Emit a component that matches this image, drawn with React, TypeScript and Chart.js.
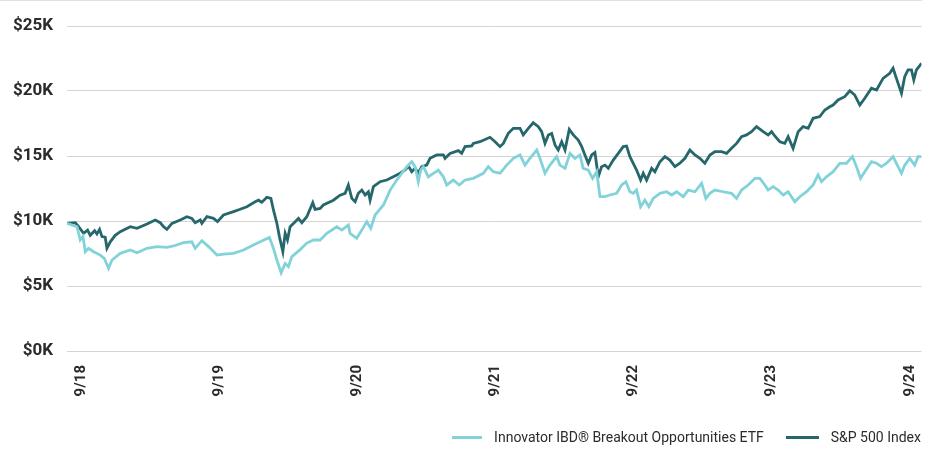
import React, { useEffect, useRef } from "react";
import { Chart, registerables } from "chart.js";

Chart.register(...registerables);

// x values are months after the 9/18 tick; values are $K
const tickMonths = [0, 12, 24, 36, 48, 60, 72];
const tickLabels = ["9/18", "9/19", "9/20", "9/21", "9/22", "9/23", "9/24"];
const yTicks = [0, 5, 10, 15, 20, 25];

const seriesNames = ["Innovator IBD\u00AE Breakout Opportunities ETF", "S&P 500 Index"];

const etfMonths = [
  -1.24, -0.37, -0.09, 0.15, 0.35, 0.63, 1.07, 1.65, 2.0, 2.37, 2.67, 3.39, 4.26, 4.84, 5.71, 6.57, 7.44, 8.02, 8.88,
  9.61, 9.9, 10.48, 11.06, 11.79, 12.36, 13.23, 14.1, 14.96, 15.55, 16.35, 16.7, 17.0, 17.37, 17.72, 18.0, 18.3,
  19.02, 19.6, 20.18, 20.76, 21.34, 22.21, 22.64, 23.21, 23.36, 23.94, 24.38, 24.81, 25.16, 25.53, 26.26, 26.84,
  27.42, 27.85, 28.29, 28.72, 29.01, 29.29, 29.5, 29.73, 30.16, 30.6, 31.03, 31.47, 31.76, 32.33, 32.86, 33.35,
  34.07, 34.94, 35.37, 35.81, 36.39, 36.97, 37.55, 38.13, 38.56, 38.99, 39.58, 39.86, 40.3, 40.73, 41.31, 41.6,
  42.04, 42.47, 42.9, 43.34, 43.62, 44.06, 44.44, 44.79, 45.08, 45.51, 45.94, 46.53, 46.96, 47.33, 47.68, 47.97,
  48.26, 48.61, 48.98, 49.33, 49.7, 50.29, 50.87, 51.3, 51.74, 52.31, 52.75, 53.33, 53.91, 54.28, 54.63, 55.06,
  55.78, 56.51, 56.95, 57.38, 57.96, 58.54, 58.97, 59.41, 59.69, 60.13, 60.56, 61.0, 61.43, 62.01, 62.44, 63.03,
  63.6, 64.03, 64.33, 64.76, 65.34, 65.92, 66.5, 67.02, 67.37, 67.72, 68.09, 68.67, 69.11, 69.54, 69.98, 70.55,
  70.84, 71.28, 71.56, 72.0, 72.43, 72.72, 73.02,
];
const etfValues = [
  9.82, 9.56, 8.54, 8.8, 7.64, 7.9, 7.64, 7.38, 7.13, 6.36, 7.0, 7.51, 7.77, 7.56, 7.9, 8.03, 7.97, 8.08, 8.33,
  8.4, 7.9, 8.49, 8.03, 7.38, 7.46, 7.51, 7.77, 8.15, 8.4, 8.74, 7.9, 7.0, 6.02, 6.74, 6.49, 7.26,
  7.8, 8.3, 8.54, 8.54, 9.05, 9.56, 9.3, 9.69, 9.05, 8.67, 9.3, 9.95, 9.44, 10.46, 11.23, 12.38,
  13.15, 13.67, 14.18, 14.56, 14.18, 13.02, 13.92, 14.18, 13.4, 13.67, 13.92, 13.4, 12.77, 13.15, 12.77, 13.15,
  13.28, 13.67, 14.18, 13.79, 13.67, 14.3, 14.82, 15.08, 14.3, 14.82, 15.46, 14.82, 13.67, 14.3, 14.95, 14.3,
  14.05, 15.2, 14.82, 15.08, 14.05, 13.92, 13.28, 13.79, 11.87, 11.87, 12.0, 12.13, 12.77, 13.02, 12.25, 12.13,
  12.38, 11.1, 11.6, 11.1, 11.74, 12.13, 12.25, 12.0, 12.25, 11.87, 12.38, 12.25, 12.9, 11.74, 12.13, 12.38,
  12.25, 12.13, 11.74, 12.38, 12.77, 13.28, 13.28, 12.77, 12.38, 12.64, 12.38, 12.0, 12.25, 11.48, 11.87, 12.25,
  12.77, 13.54, 13.02, 13.4, 13.79, 14.44, 14.44, 14.95, 14.18, 13.28, 13.79, 14.56, 14.44, 14.18, 14.44, 14.95,
  14.44, 13.67, 14.3, 14.82, 14.3, 14.95, 14.95,
];

const spxMonths = [
  -1.24, -0.52, -0.23, 0.2, 0.55, 0.78, 1.16, 1.36, 1.59, 1.8, 2.08, 2.23, 2.52, 2.95, 3.39, 4.26, 4.84, 5.71, 6.43,
  6.86, 7.15, 7.44, 7.88, 8.6, 9.18, 9.61, 9.9, 10.34, 10.48, 10.92, 11.49, 11.84, 12.36, 13.23, 13.81, 14.39,
  15.11, 15.4, 15.69, 16.13, 16.48, 16.7, 17.0, 17.22, 17.52, 17.72, 17.92, 18.15, 18.59, 18.87, 19.17, 19.6,
  20.12, 20.32, 20.76, 21.04, 21.91, 22.49, 22.93, 23.21, 23.51, 23.8, 24.08, 24.38, 24.67, 24.95, 25.1, 25.39,
  25.97, 26.55, 27.12, 27.71, 28.14, 28.43, 28.72, 29.01, 29.29, 29.59, 30.02, 30.31, 30.89, 31.47, 31.61, 32.05,
  32.77, 33.06, 33.35, 33.93, 34.07, 34.65, 35.52, 35.96, 36.39, 36.68, 37.11, 37.55, 38.13, 38.41, 38.85, 39.28,
  39.72, 40.01, 40.3, 40.59, 40.88, 41.17, 41.45, 41.75, 42.04, 42.41, 42.76, 43.19, 43.49, 43.77, 44.06, 44.36,
  44.64, 44.93, 45.22, 45.51, 45.8, 46.23, 46.67, 47.1, 47.39, 47.68, 47.97, 48.26, 48.61, 48.84, 49.13, 49.57,
  49.85, 50.29, 50.72, 51.15, 51.59, 52.02, 52.46, 52.89, 53.33, 53.76, 54.19, 54.63, 55.06, 55.64, 56.08, 56.51,
  56.95, 57.38, 57.82, 58.25, 58.68, 59.26, 59.69, 59.99, 60.27, 60.71, 61.14, 61.43, 61.86, 62.3, 62.73, 63.17,
  63.6, 64.18, 64.62, 65.05, 65.34, 65.77, 66.35, 66.79, 67.22, 67.66, 68.09, 68.67, 69.11, 69.68, 70.26, 70.55,
  70.84, 71.28, 71.56, 71.85, 72.15, 72.35, 72.58, 73.02,
];
const spxValues = [
  9.82, 9.87, 9.56, 9.05, 9.3, 8.9, 9.25, 9.0, 9.36, 8.8, 8.75, 7.9, 8.4, 8.9, 9.18, 9.56, 9.44, 9.77, 10.08,
  9.87, 9.56, 9.36, 9.82, 10.08, 10.33, 10.2, 9.87, 10.08, 9.82, 10.33, 10.2, 9.95, 10.46, 10.72, 10.9, 11.1,
  11.48, 11.6, 11.44, 11.82, 11.74, 10.85, 9.82, 8.8, 7.64, 9.05, 8.54, 9.56, 9.95, 10.2, 9.87, 10.33,
  11.41, 10.9, 10.97, 11.23, 11.6, 11.99, 12.13, 12.77, 11.74, 11.48, 12.13, 12.38, 12.0, 12.25, 11.6, 12.64,
  13.02, 13.15, 13.4, 13.67, 13.92, 14.23, 13.79, 14.05, 13.72, 14.18, 14.3, 14.82, 15.08, 15.08, 14.82, 15.2,
  15.41, 15.2, 15.72, 15.77, 15.97, 16.1, 16.44, 16.1, 15.72, 15.97, 16.74, 17.13, 17.13, 16.62, 17.13, 17.56,
  17.26, 16.87, 15.97, 16.62, 16.74, 15.85, 15.46, 16.1, 15.46, 17.05, 16.62, 16.23, 15.72, 15.08, 14.44, 15.08,
  15.26, 13.4, 14.18, 14.3, 14.05, 14.69, 15.2, 15.72, 15.77, 14.95, 14.44, 13.92, 13.15, 13.67, 13.15, 14.05,
  13.79, 14.56, 14.95, 14.69, 14.18, 14.44, 14.82, 15.46, 15.08, 14.82, 14.44, 15.08, 15.33, 15.33, 15.2, 15.59,
  15.97, 16.49, 16.62, 16.87, 17.26, 16.87, 16.62, 16.87, 16.54, 16.1, 15.97, 16.49, 15.59, 16.87, 17.26, 17.13,
  17.9, 18.03, 18.54, 18.79, 18.92, 19.31, 19.56, 20.02, 19.69, 18.92, 19.44, 20.21, 20.08, 20.97, 21.36, 21.75,
  20.97, 19.82, 21.1, 21.62, 21.62, 20.85, 21.62, 22.13,
];

const ETF_COLOR = "#82d3d9";
const SPX_COLOR = "#26676b";
const TEXT_COLOR = "#2b2b2b";
const FONT = "Roboto, 'Liberation Sans', sans-serif";

export default function App() {
  const canvasRef = useRef<HTMLCanvasElement | null>(null);

  useEffect(() => {
    if (!canvasRef.current) return;
    const toPoints = (xs: number[], ys: number[]) => xs.map((x, i) => ({ x, y: ys[i] }));
    const chart = new Chart(canvasRef.current, {
      type: "line",
      data: {
        datasets: [
          {
            label: seriesNames[0],
            data: toPoints(etfMonths, etfValues),
            borderColor: ETF_COLOR,
            backgroundColor: ETF_COLOR,
            borderWidth: 2.8,
            pointRadius: 0,
            tension: 0,
          },
          {
            label: seriesNames[1],
            data: toPoints(spxMonths, spxValues),
            borderColor: SPX_COLOR,
            backgroundColor: SPX_COLOR,
            borderWidth: 2.8,
            pointRadius: 0,
            tension: 0,
          },
        ],
      },
      options: {
        animation: false,
        responsive: true,
        maintainAspectRatio: false,
        layout: { padding: { left: 0, top: 26, right: 11.5, bottom: 0 } },
        plugins: { legend: { display: false }, tooltip: { enabled: false } },
        scales: {
          x: {
            type: "linear",
            min: etfMonths[0],
            max: etfMonths[etfMonths.length - 1],
            afterBuildTicks: (scale: any) => {
              scale.ticks = tickMonths.map((v) => ({ value: v }));
            },
            afterFit: (scale: any) => {
              scale.height = 98;
              scale.paddingLeft = 0;
              scale.paddingRight = 0;
            },
            grid: { display: false, drawTicks: false },
            border: { display: false },
            ticks: {
              autoSkip: false,
              minRotation: 90,
              maxRotation: 90,
              padding: 14,
              color: TEXT_COLOR,
              font: { family: FONT, size: 15, weight: "bold" },
              callback: (v: any) => {
                const i = tickMonths.indexOf(Number(v));
                return i >= 0 ? tickLabels[i] : "";
              },
            },
          },
          y: {
            min: 0,
            max: 25,
            afterBuildTicks: (scale: any) => {
              scale.ticks = yTicks.map((v) => ({ value: v }));
            },
            afterFit: (scale: any) => {
              scale.width = 67;
              scale.paddingTop = 0;
              scale.paddingBottom = 0;
            },
            grid: { color: "#d4d4d4", lineWidth: 1, drawTicks: false },
            border: { display: false },
            ticks: {
              padding: 14,
              color: TEXT_COLOR,
              font: { family: FONT, size: 17, weight: "bold" },
              callback: (v: any) => `$${v}K`,
            },
          },
        },
      },
    });
    return () => chart.destroy();
  }, []);

  const legendItem = (color: string, text: string, lineW: number, extraStyle: React.CSSProperties = {}) => (
    <div style={{ display: "flex", alignItems: "center", ...extraStyle }}>
      <span style={{ display: "inline-block", width: lineW, height: 3, background: color, marginRight: 12 }} />
      <span>{text}</span>
    </div>
  );

  return (
    <div style={{ position: "fixed", left: 0, top: 0, width: 933, height: 449, background: "#fff" }}>
      <div style={{ position: "absolute", left: 0, top: 0, width: 922, height: 1, background: "#dde1e4" }} />
      <div style={{ position: "absolute", left: 0, top: 0, width: 933, height: 449 }}>
        <canvas ref={canvasRef} />
      </div>
      <div
        style={{
          position: "absolute",
          right: 12,
          top: 428,
          display: "flex",
          alignItems: "center",
          fontFamily: FONT,
          fontSize: 14,
          lineHeight: "18px",
          color: TEXT_COLOR,
          whiteSpace: "nowrap",
        }}
      >
        {legendItem(ETF_COLOR, seriesNames[0], 30, { marginRight: 22 })}
        {legendItem(SPX_COLOR, seriesNames[1], 33)}
      </div>
    </div>
  );
}
